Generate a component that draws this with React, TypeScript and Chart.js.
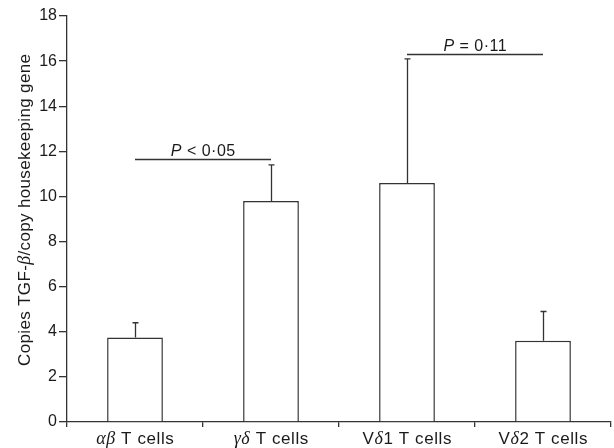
import React, { useEffect, useRef } from 'react';
import { Chart, registerables } from 'chart.js';

Chart.register(...registerables);

const categories = ['αβ T cells', 'γδ T cells', 'Vδ1 T cells', 'Vδ2 T cells'];
const means = [3.75, 9.8, 10.6, 3.6];
const errors = [0.65, 1.6, 5.5, 1.3];
const yTickValues = [0, 2, 4, 6, 8, 10, 12, 14, 16, 18];
const sigFrom = [0, 2];
const sigTo = [1, 3];
const sigLevel = [11.65, 16.3];
const sigText = ['P < 0·05', 'P = 0·11'];
const yTitle = 'Copies TGF-β/copy housekeeping gene';

const SANS = '"Liberation Sans", Arial, Helvetica, sans-serif';
const SERIF = '"Liberation Serif", "Times New Roman", serif';
const INK = '#333';
const TEXT = '#1a1a1a';

function isGreek(ch: string) {
  const c = ch.charCodeAt(0);
  return c >= 0x3b1 && c <= 0x3c9;
}

function fontFor(ch: string, size: number, italicP: boolean) {
  if (isGreek(ch)) return `italic ${size + 1}px ${SERIF}`;
  if (italicP && ch === 'P') return `italic ${size}px ${SANS}`;
  return `${size}px ${SANS}`;
}

function drawMixed(ctx: any, text: string, x: number, y: number, size: number, italicP: boolean, spacing: number) {
  const segs: { t: string; f: string }[] = [];
  for (const ch of text) {
    const f = fontFor(ch, size, italicP);
    if (segs.length && segs[segs.length - 1].f === f) segs[segs.length - 1].t += ch;
    else segs.push({ t: ch, f });
  }
  ctx.letterSpacing = '0px';
  let total = 0;
  const widths: number[] = [];
  for (const s of segs) {
    ctx.font = s.f;
    const w = ctx.measureText(s.t).width + spacing * [...s.t].length;
    widths.push(w);
    total += w;
  }
  total -= spacing;
  let cx = x - total / 2;
  ctx.textAlign = 'left';
  ctx.letterSpacing = `${spacing}px`;
  segs.forEach((s, i) => {
    ctx.font = s.f;
    ctx.fillText(s.t, cx, y);
    cx += widths[i];
  });
  ctx.letterSpacing = '0px';
}

const annotations = {
  id: 'annotations',
  afterDatasetsDraw(chart: any) {
    const ctx: CanvasRenderingContext2D = chart.ctx;
    const x = chart.scales.x;
    const y = chart.scales.y;
    ctx.save();
    ctx.strokeStyle = INK;
    ctx.lineWidth = 1.3;
    // error bars
    means.forEach((m, i) => {
      const px = Math.round(x.getPixelForValue(i)) + 0.5;
      const y0 = y.getPixelForValue(m);
      const y1 = y.getPixelForValue(m + errors[i]);
      ctx.beginPath();
      ctx.moveTo(px, y0);
      ctx.lineTo(px, y1);
      ctx.moveTo(px - 3, y1);
      ctx.lineTo(px + 3, y1);
      ctx.stroke();
    });
    // significance lines
    ctx.fillStyle = TEXT;
    ctx.textBaseline = 'alphabetic';
    sigFrom.forEach((f, i) => {
      const xa = x.getPixelForValue(f);
      const xb = x.getPixelForValue(sigTo[i]);
      const py = Math.round(y.getPixelForValue(sigLevel[i])) + 0.5;
      ctx.beginPath();
      ctx.moveTo(xa, py);
      ctx.lineTo(xb, py);
      ctx.stroke();
      drawMixed(ctx, sigText[i], (xa + xb) / 2, py - 4, 16, true, 0.5);
    });
    // category labels
    ctx.textBaseline = 'alphabetic';
    categories.forEach((c, i) => {
      const px = x.getPixelForValue(i);
      drawMixed(ctx, c, px, x.top + 22, 17, false, 0.6);
    });
    // y title
    ctx.translate(25, (y.top + y.bottom) / 2 - 9);
    ctx.rotate(-Math.PI / 2);
    ctx.textBaseline = 'middle';
    drawMixed(ctx, yTitle, 0, 0, 17, false, 0.35);
    ctx.restore();
  },
};

export default function App() {
  const ref = useRef<HTMLCanvasElement | null>(null);
  useEffect(() => {
    if (!ref.current) return;
    const chart = new Chart(ref.current, {
      type: 'bar',
      data: {
        labels: categories,
        datasets: [
          {
            data: means,
            backgroundColor: '#ffffff',
            borderColor: INK,
            borderWidth: 1.5,
            borderSkipped: 'bottom',
            barPercentage: 0.41,
            categoryPercentage: 1,
          },
        ],
      },
      options: {
        responsive: false,
        animation: false,
        devicePixelRatio: 1,
        layout: { padding: { top: 16, right: 3, left: 0, bottom: 0 } },
        plugins: { legend: { display: false }, tooltip: { enabled: false } },
        scales: {
          x: {
            type: 'category',
            grid: { offset: true, drawOnChartArea: false, drawTicks: true, tickLength: 5, color: INK, lineWidth: 1.3 },
            border: { display: true, color: INK, width: 1.3 },
            ticks: { color: 'rgba(0,0,0,0)', font: { size: 16 } },
            afterFit: (s: any) => { s.height = 26; },
          },
          y: {
            min: 0,
            max: 18,
            afterBuildTicks: (s: any) => { s.ticks = yTickValues.map((v) => ({ value: v })); },
            ticks: { color: TEXT, padding: 2, font: { size: 16, family: SANS } },
            grid: { drawOnChartArea: false, drawTicks: true, tickLength: 8, color: INK, lineWidth: 1.3 },
            border: { display: true, color: INK, width: 1.3 },
            afterFit: (s: any) => { s.width = 67; },
          },
        },
      },
      plugins: [annotations],
    });
    return () => chart.destroy();
  }, []);
  return (
    <div style={{ position: 'absolute', left: 0, top: 0, width: 614, height: 448, background: '#fff' }}>
      <canvas ref={ref} width={614} height={448} style={{ display: 'block' }} />
    </div>
  );
}
